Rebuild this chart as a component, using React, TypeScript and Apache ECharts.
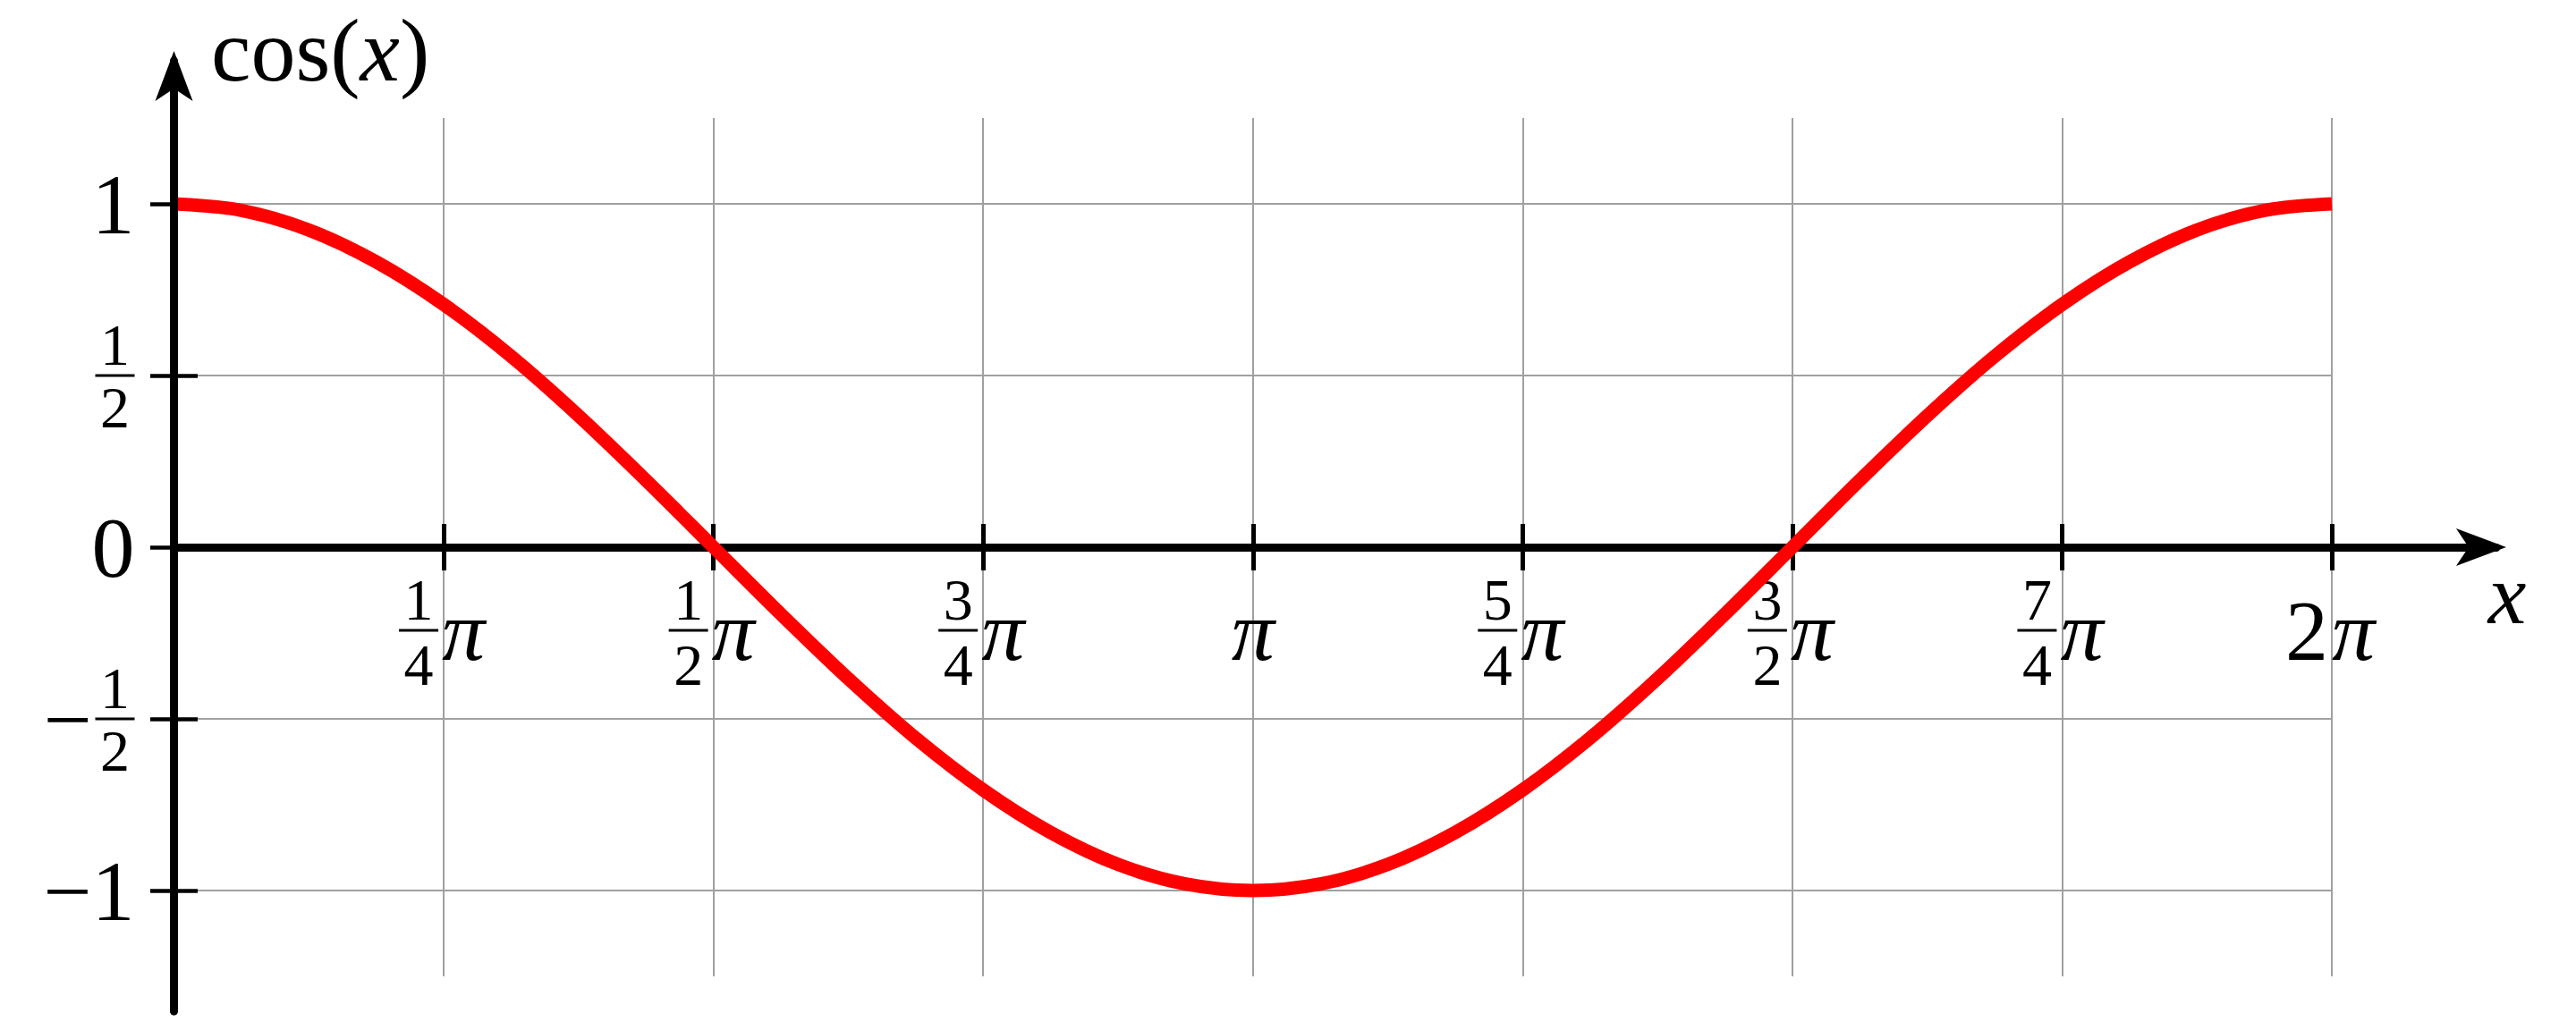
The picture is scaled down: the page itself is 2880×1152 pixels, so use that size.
import React, { useEffect, useRef } from 'react';
import * as echarts from 'echarts';

// Points; x is given in multiples of π
const xSamples = [
  0, 0.0625, 0.125, 0.1875, 0.25, 0.3125, 0.375, 0.4375, 0.5, 0.5625, 0.625, 0.6875, 0.75, 0.8125, 0.875, 0.9375,
  1, 1.0625, 1.125, 1.1875, 1.25, 1.3125, 1.375, 1.4375, 1.5, 1.5625, 1.625, 1.6875, 1.75, 1.8125, 1.875, 1.9375, 2,
];
const cosSamples = [
  1, 0.981, 0.924, 0.831, 0.707, 0.556, 0.383, 0.195, 0, -0.195, -0.383, -0.556, -0.707, -0.831, -0.924, -0.981,
  -1, -0.981, -0.924, -0.831, -0.707, -0.556, -0.383, -0.195, 0, 0.195, 0.383, 0.556, 0.707, 0.831, 0.924, 0.981, 1,
];

// Tick labels, x every π/4 from 0, y every 1/2 from -1
const xTickLabels = ['', '1/4π', '1/2π', '3/4π', 'π', '5/4π', '3/2π', '7/4π', '2π'];
const yTickLabels = ['−1', '−1/2', '0', '1/2', '1'];

const yAxisTitle = 'cos(x)';
const xAxisTitle = 'x';

// Layout: pixel origin and scale (px per π on x, px per unit on y)
const X0 = 194.5;
const PX = 1206.25;
const Y0 = 612;
const PY = 384;
const X_END = 2.1525;
const Y_END = 1.4167;
const Y_START = -1.352;
const ARROW_OFFSET = 11;

const FONT = "'Liberation Serif', 'DejaVu Serif', serif";
const GRID_COLOR = '#a0a0a0';

const box = (x0: number, x1: number, y0: number, y1: number) => ({
  left: X0 + x0 * PX,
  width: (x1 - x0) * PX,
  top: Y0 - y1 * PY,
  height: (y1 - y0) * PY,
});

const hidden = {
  axisLine: { show: false },
  axisTick: { show: false },
  axisLabel: { show: false },
  splitLine: { show: false },
};

const xLabel = (v: number) => {
  const s = xTickLabels[Math.round(v / 0.25)] ?? '';
  if (!s) return '';
  const frac = s.match(/^(\d+)\/(\d+)π$/);
  if (frac) return `{xn|${frac[1]}}{xg| }\n{xbar| }{xpi|π}\n{xd|${frac[2]}}{xg2| }`;
  const coef = s.replace('π', '');
  return `{xe1| }\n${coef ? `{xbig|${coef}}` : ''}{xpi|π}\n{xe3| }`;
};

const yLabel = (v: number) => {
  const s = yTickLabels[Math.round((v + 1) / 0.5)] ?? '';
  const frac = s.match(/^(−?)(\d+)\/(\d+)$/);
  if (!frac) return `{yb|${s}}`;
  if (frac[1]) return `{ysp| }{yn|${frac[2]}}\n{ym|−}{ybar| }\n{ysp| }{yn|${frac[3]}}`;
  return `{yn|${frac[2]}}\n{ybar| }\n{yn|${frac[3]}}`;
};

const xRich = {
  xn: { fontSize: 66, fontFamily: FONT, color: '#000', width: 44, align: 'center', lineHeight: 40 },
  xd: { fontSize: 66, fontFamily: FONT, color: '#000', width: 44, align: 'center', lineHeight: 46 },
  xg: { fontSize: 10, width: 56, align: 'center', lineHeight: 40 },
  xg2: { fontSize: 10, width: 56, align: 'center', lineHeight: 46 },
  xbar: { fontSize: 10, width: 44, height: 3, backgroundColor: '#000', align: 'center', lineHeight: 30 },
  xpi: { fontSize: 96, fontFamily: FONT, fontStyle: 'italic', color: '#000', width: 56, align: 'center', lineHeight: 30 },
  xbig: { fontSize: 96, fontFamily: FONT, color: '#000', width: 48, align: 'center', lineHeight: 30 },
  xe1: { fontSize: 10, width: 1, align: 'center', lineHeight: 40 },
  xe3: { fontSize: 10, width: 1, align: 'center', lineHeight: 46 },
};

const yRich = {
  yb: { fontSize: 96, fontFamily: FONT, color: '#000', lineHeight: 100 },
  yn: { fontSize: 66, fontFamily: FONT, color: '#000', width: 44, align: 'center', lineHeight: 40 },
  ybar: { fontSize: 10, width: 44, height: 3, backgroundColor: '#000', align: 'center', lineHeight: 30 },
  ym: { fontSize: 96, fontFamily: FONT, color: '#000', width: 62, align: 'center', lineHeight: 30 },
  ysp: { fontSize: 10, width: 62, align: 'center', lineHeight: 40 },
};

export default function App() {
  const chartRef = useRef<HTMLDivElement>(null);

  useEffect(() => {
    if (!chartRef.current) return;
    const chart = echarts.init(chartRef.current, undefined, { renderer: 'svg' });

    const option: any = {
      animation: false,
      backgroundColor: '#fff',
      grid: [
        box(0, 2, -1.25, 1.25), // vertical grid lines
        box(0, 2, -1, 1), // horizontal grid lines + curve
        box(0, X_END, Y_START, Y_END), // axes with arrows
        { left: X0, width: 2 * PX, top: Y0 - 26, height: 52 }, // x ticks
        { left: X0 - 26.5, width: 53, top: Y0 - PY, height: 2 * PY }, // y ticks
      ],
      xAxis: [
        {
          gridIndex: 0, type: 'value', min: 0, max: 2, interval: 0.25, ...hidden,
          splitLine: { show: true, lineStyle: { color: GRID_COLOR, width: 2 } },
        },
        { gridIndex: 1, type: 'value', min: 0, max: 2, interval: 0.25, ...hidden },
        {
          gridIndex: 2, type: 'value', min: 0, max: X_END, ...hidden, z: 0,
          axisLine: {
            show: true, onZero: true, symbol: ['none', 'arrow'], symbolSize: [31.5, 56],
            symbolOffset: [0, ARROW_OFFSET],
            lineStyle: { color: '#000', width: 9 },
          },
        },
        {
          gridIndex: 3, type: 'value', min: 0, max: 2, interval: 0.25, position: 'bottom',
          axisLine: { show: false, onZero: false },
          axisTick: { show: false },
          splitLine: { show: true, lineStyle: { color: '#000', width: 5 } },
          axisLabel: {
            show: true, margin: 12, color: '#000', showMinLabel: true, showMaxLabel: true,
            formatter: xLabel, rich: xRich,
          },
        },
        { gridIndex: 4, type: 'value', min: 0, max: 1, ...hidden },
      ],
      yAxis: [
        { gridIndex: 0, type: 'value', min: -1.25, max: 1.25, ...hidden },
        {
          gridIndex: 1, type: 'value', min: -1, max: 1, interval: 0.5,
          axisLine: { show: false },
          axisTick: { show: false },
          splitLine: { show: true, lineStyle: { color: GRID_COLOR, width: 2 } },
          axisLabel: {
            show: true, margin: 44, color: '#000', showMinLabel: true, showMaxLabel: true,
            formatter: yLabel, rich: yRich,
          },
        },
        {
          gridIndex: 2, type: 'value', min: Y_START, max: Y_END, ...hidden, z: 3,
          axisLine: {
            show: true, onZero: true, symbol: ['none', 'arrow'], symbolSize: [31.5, 56],
            symbolOffset: [0, ARROW_OFFSET],
            lineStyle: { color: '#000', width: 9 },
          },
        },
        { gridIndex: 3, type: 'value', min: -1, max: 1, ...hidden },
        {
          gridIndex: 4, type: 'value', min: -1, max: 1, interval: 0.5, ...hidden,
          splitLine: { show: true, lineStyle: { color: '#000', width: 4.5 } },
        },
      ],
      graphic: [
        {
          type: 'text', x: 236, y: 56, z: 10,
          style: {
            text: `{r|${yAxisTitle.slice(0, 4)}}{i|${yAxisTitle.slice(4, 5)}}{r|${yAxisTitle.slice(5)}}`,
            fill: '#000',
            align: 'left', textAlign: 'left',
            verticalAlign: 'middle', textVerticalAlign: 'middle',
            rich: {
              r: { fontSize: 100, fontFamily: FONT, fill: '#000' },
              i: { fontSize: 100, fontFamily: FONT, fontStyle: 'italic', fill: '#000' },
            },
          },
        },
        {
          type: 'text', x: 2803, y: 664, z: 10,
          style: {
            text: xAxisTitle,
            font: `italic 96px ${FONT}`,
            fill: '#000',
            align: 'center', textAlign: 'center',
            verticalAlign: 'middle', textVerticalAlign: 'middle',
          },
        },
      ],
      series: [
        {
          type: 'line',
          xAxisIndex: 1,
          yAxisIndex: 1,
          data: xSamples.map((x, i) => [x, cosSamples[i]]),
          smooth: 0.33,
          showSymbol: false,
          clip: false,
          z: 2,
          lineStyle: { color: '#ff0000', width: 15, cap: 'butt' },
        },
      ],
    };

    chart.setOption(option);
    return () => chart.dispose();
  }, []);

  return (
    <div
      ref={chartRef}
      style={{ position: 'fixed', left: 0, top: 0, width: 2880, height: 1152, background: '#fff' }}
    />
  );
}
